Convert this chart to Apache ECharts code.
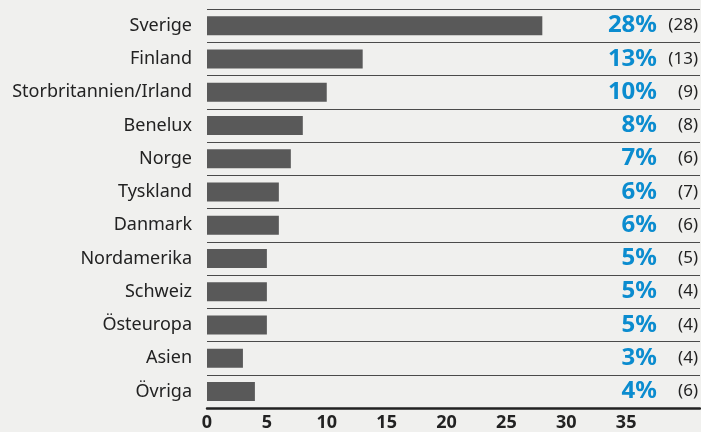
<!DOCTYPE html>
<html lang="sv">
<head>
    <meta charset="UTF-8">
    <title>regioner</title>
    <script src="https://cdn.jsdelivr.net/npm/echarts@6/dist/echarts.min.js"></script>
    <style>
        html, body { margin: 0; padding: 0; background: #f0f0ee; }
    </style>
</head>
<body>
<div id="main" style="width:701px; height:432px;"></div>
<script>
    // data
    var regions = ['Sverige', 'Finland', 'Storbritannien/Irland', 'Benelux', 'Norge', 'Tyskland',
        'Danmark', 'Nordamerika', 'Schweiz', 'Östeuropa', 'Asien', 'Övriga'];
    var percent = [28, 13, 10, 8, 7, 6, 6, 5, 5, 5, 3, 4];
    var counts = [28, 13, 9, 8, 6, 7, 6, 5, 4, 4, 4, 6];
    var xTicks = [0, 5, 10, 15, 20, 25, 30, 35];

    var myChart = echarts.init(document.getElementById('main'));
    myChart.setOption({
        backgroundColor: '#f0f0ee',
        textStyle: { fontFamily: 'Noto Sans' },
        grid: { left: 207, right: 0, top: 9, bottom: 24 },
        xAxis: {
            type: 'value',
            min: 0,
            max: 494 / 12,
            interval: 5,
            splitLine: { show: false },
            axisTick: { show: false },
            axisLine: { show: true, lineStyle: { color: '#222', width: 2.5 } },
            axisLabel: {
                margin: 6,
                fontSize: 18,
                fontWeight: 'bold',
                color: '#222',
                showMaxLabel: false,
                formatter: function (v) {
                    return xTicks.indexOf(v) >= 0 ? String(v) : '';
                }
            }
        },
        yAxis: [{
            type: 'category',
            data: regions,
            inverse: true,
            axisLine: { show: false },
            axisTick: { show: false },
            splitLine: { show: true, lineStyle: { color: '#4a4a4a', width: 1 } },
            axisLabel: { margin: 15, fontSize: 18, color: '#222' }
        }, {
            type: 'category',
            data: regions,
            inverse: true,
            position: 'right',
            axisLine: { show: false },
            axisTick: { show: false },
            splitLine: { show: false },
            axisLabel: {
                inside: true,
                margin: 2,
                formatter: function (v, i) {
                    return '{p|' + percent[i] + '%}{c|(' + counts[i] + ')}';
                },
                rich: {
                    p: { fontSize: 24, fontWeight: 'bold', color: '#0b8ccf' },
                    c: { fontSize: 17, color: '#222', width: 41, align: 'right' }
                }
            }
        }],
        series: [{
            type: 'bar',
            data: percent,
            barWidth: 19,
            itemStyle: { color: '#595959' },
            silent: true
        }]
    });
</script>
</body>
</html>
